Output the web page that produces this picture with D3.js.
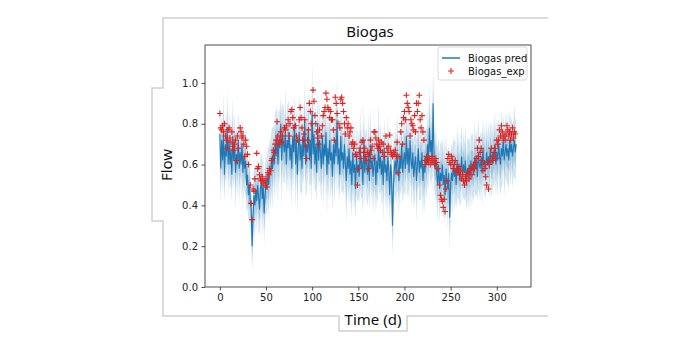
<!DOCTYPE html>
<html>

<head>
  <title>Biogas</title>

  <style>
    body,
    html {
      margin: 0;
      padding: 0;
      background: #fff;
    }

    #svg {
      display: block;
    }
  </style>
</head>


<body>

  <svg id="svg" width="700" height="350"></svg>

  <script src="https://d3js.org/d3.v7.min.js"></script>

  <script>
    // predicted flow, one value per day (day = index)
    const predFlow = [
      0.75, 0.58, 0.72, 0.62, 0.76, 0.55, 0.70, 0.64, 0.78, 0.60,
      0.72, 0.60, 0.68, 0.55, 0.74, 0.62, 0.70, 0.56, 0.65, 0.60, 0.72, 0.58, 0.66, 0.60, 0.70, 0.56, 0.64, 0.58, 0.62, 0.50,
      0.55, 0.45, 0.50, 0.42, 0.38, 0.20, 0.35, 0.45, 0.40, 0.48,
      0.42, 0.50, 0.44, 0.38, 0.48, 0.52, 0.43, 0.50, 0.36, 0.45, 0.52, 0.48, 0.55, 0.50, 0.58,
      0.55, 0.62, 0.58, 0.66, 0.60, 0.70, 0.64, 0.75, 0.60, 0.72, 0.68, 0.80, 0.62, 0.74, 0.70, 0.66, 0.78, 0.60, 0.72, 0.68,
      0.76, 0.62, 0.70, 0.58, 0.74, 0.66, 0.80, 0.60, 0.72, 0.55, 0.68, 0.76, 0.62, 0.70, 0.58, 0.74, 0.64, 0.82, 0.60, 0.70, 0.66, 0.78, 0.62, 0.72, 0.58,
      0.86, 0.65, 0.75, 0.60, 0.70, 0.56, 0.80, 0.62, 0.72, 0.66, 0.58, 0.74, 0.60, 0.70, 0.64, 0.76, 0.55, 0.68, 0.60, 0.72, 0.62, 0.66, 0.54, 0.70, 0.60,
      0.72, 0.64, 0.82, 0.60, 0.68, 0.55, 0.74, 0.62, 0.66, 0.58, 0.70, 0.60, 0.52, 0.64, 0.58, 0.68, 0.55, 0.62, 0.50, 0.66, 0.56, 0.60, 0.48, 0.64, 0.56,
      0.60, 0.54, 0.68, 0.58, 0.62, 0.50, 0.72, 0.56, 0.64, 0.60, 0.55, 0.66, 0.52, 0.70, 0.58, 0.62, 0.54, 0.60, 0.65, 0.50, 0.62, 0.56, 0.70, 0.58, 0.64,
      0.55, 0.62, 0.50, 0.68, 0.56, 0.60, 0.52, 0.64, 0.58, 0.45, 0.60, 0.55, 0.30, 0.50, 0.58, 0.62, 0.55, 0.66, 0.60, 0.52, 0.64, 0.58, 0.70, 0.56, 0.62,
      0.66, 0.58, 0.74, 0.60, 0.68, 0.56, 0.72, 0.62, 0.58, 0.66, 0.54, 0.60, 0.64, 0.52, 0.60, 0.68, 0.56, 0.62, 0.58, 0.66, 0.52, 0.60, 0.56, 0.64, 0.60,
      0.70, 0.62, 0.78, 0.66, 0.72, 0.60, 0.90, 0.64, 0.58, 0.62, 0.55, 0.50, 0.60, 0.48, 0.56, 0.52, 0.60, 0.50, 0.55, 0.45, 0.58, 0.52, 0.48, 0.56, 0.34,
      0.50, 0.56, 0.52, 0.60, 0.54, 0.58, 0.50, 0.62, 0.55, 0.60, 0.52, 0.58, 0.64, 0.54, 0.60, 0.56, 0.62, 0.50, 0.58, 0.55, 0.60, 0.53, 0.62, 0.57, 0.60,
      0.55, 0.64, 0.58, 0.62, 0.54, 0.66, 0.60, 0.58, 0.64, 0.56, 0.68, 0.60, 0.62, 0.58, 0.66, 0.60, 0.64, 0.58, 0.68, 0.62, 0.60, 0.66, 0.62, 0.70, 0.60,
      0.66, 0.62, 0.70, 0.64, 0.60, 0.68, 0.64, 0.72, 0.62, 0.66, 0.70, 0.64, 0.68, 0.62, 0.72, 0.66, 0.70, 0.64, 0.68, 0.72, 0.66, 0.70
    ]

    // half width of the uncertainty band, one value per day
    const predSpread = [
      .14, .18, .12, .16, .20, .13, .17, .12, .19, .15, .16, .12, .18, .14, .20, .13, .15, .19, .12, .17,
      .14, .18, .12, .16, .13, .19, .15, .12, .17, .14, .16, .12, .18, .13, .15, .12, .16, .14, .18, .12,
      .15, .13, .17, .12, .16, .14, .19, .12, .15, .13, .16, .12, .14, .18, .13, .17, .15, .20, .13, .18,
      .16, .22, .14, .20, .15, .18, .13, .24, .16, .19, .15, .20, .14, .18, .22, .15, .19, .13, .21, .16,
      .18, .14, .22, .15, .20, .13, .19, .16, .23, .15, .18, .14, .20, .16, .24, .15, .19, .13, .21, .17,
      .25, .16, .20, .14, .22, .15, .19, .13, .20, .16, .18, .14, .22, .15, .19, .13, .21, .16, .18, .14,
      .20, .15, .18, .13, .21, .16, .19, .22, .15, .18, .14, .20, .16, .19, .13, .18, .15, .21, .14, .17,
      .19, .14, .20, .16, .18, .13, .21, .15, .18, .14, .17, .13, .20, .15, .18, .14, .19, .16, .13, .18,
      .15, .20, .14, .18, .16, .13, .19, .15, .17, .14, .18, .15, .20, .13, .17, .16, .14, .19, .15, .18,
      .14, .17, .20, .15, .13, .18, .16, .15, .22, .14, .17, .15, .19, .14, .18, .16, .13, .20, .15, .17,
      .19, .14, .18, .16, .20, .13, .17, .15, .19, .14, .16, .18, .13, .20, .15, .17, .14, .19, .16, .13,
      .18, .15, .20, .14, .17, .19, .15, .21, .16, .18, .14, .20, .16, .13, .18, .15, .19, .14, .17, .15,
      .18, .13, .16, .20, .14, .17, .15, .19, .13, .16, .18, .14, .16, .13, .17, .15, .12, .18, .14, .16,
      .13, .17, .15, .12, .16, .14, .18, .13, .15, .17, .14, .16, .12, .18, .15, .13, .17, .14, .16, .12,
      .18, .14, .16, .13, .17, .15, .12, .18, .14, .16, .13, .17, .15, .12, .18, .14, .16, .13, .17, .15,
      .14, .18, .13, .16, .15, .19, .14, .12, .17, .15, .16, .13, .18, .14, .15, .17, .12, .16, .14, .18,
      .15, .13
    ]

    // experimental points
    const expDay = [
      0, 1, 2, 3, 4, 5, 6, 7, 8, 9, 10, 11, 12, 13, 14, 15, 16, 17, 18, 19, 20, 22, 23, 24, 25, 26, 27, 28, 29, 30, 31,
      33, 34, 35, 36, 37, 38, 40, 41, 42, 43, 44, 45, 46, 47, 48, 49, 50, 51, 52, 53, 54, 55,
      56, 57, 58, 59, 60, 61, 62, 63, 64, 65, 66, 67, 68, 70, 71, 72, 74, 75, 76, 77, 78, 79, 80, 82, 83, 84,
      86, 87, 88, 89, 90, 91, 92, 93, 94, 95, 96, 97, 98, 99,
      101, 102, 103, 104, 105, 106, 107, 108, 110, 111, 112, 113, 114, 115, 116, 117, 118, 119, 120, 121, 122, 123, 124, 125, 126, 127,
      129, 130, 131, 132, 133, 134, 135, 136, 137, 138, 139, 140, 141, 142, 143, 144, 145, 146, 147, 148, 149, 150,
      151, 152, 153, 154, 155, 156, 157, 158, 159, 160, 161, 162, 163, 164, 165, 166, 167, 168, 169, 170, 171, 172, 173, 174, 175, 176, 177, 178,
      180, 181, 182, 183, 184, 185, 186, 187, 188, 189, 190, 191, 192, 193, 194, 196, 197, 198, 199, 200,
      201, 202, 203, 204, 205, 206, 207, 208, 209, 210, 211, 212, 213, 214, 215, 216, 217, 218, 219, 220,
      221, 222, 223, 224, 225, 226, 227, 228, 229, 230, 231, 232, 233, 234, 235, 236, 238, 239, 240,
      241, 242, 243, 244, 245, 246, 247, 248, 249, 250, 251, 252, 253, 254, 255, 256, 257, 258, 259, 260,
      261, 262, 263, 264, 265, 266, 267, 268, 269, 270, 271, 272, 273, 274, 275, 276, 277, 278, 279, 280,
      281, 282, 283, 284, 285, 286, 287, 288, 289, 290, 291, 292, 293, 294, 295, 296, 297, 298, 299, 300,
      301, 302, 303, 304, 305, 306, 307, 308, 309, 310, 311, 312, 313, 314, 315, 316, 317, 318, 319, 320
    ]
    const expFlow = [
      .85, .78, .77, .79, .76, .80, .74, .72, .68, .77, .78, .73, .71, .76, .69, .67, .70, .72, .62, .74, .68, .78, .76, .73, .74, .70, .64, .72, .69, .65, .60,
      .50, .41, .33, .48, .47, .53, .655, .58, .59, .55, .53, .52, .54, .51, .52, .50, .53, .49, .56, .55, .58, .57,
      .62, .63, .67, .66, .70, .72, .81, .74, .70, .72, .76, .71, .74, .78, .77, .79, .82, .74, .80, .86, .87, .83, .78, .79, .74, .72,
      .82, .88, .83, .78, .72, .75, .82, .69, .63, .72, .77, .90, .86, .80,
      .965, .91, .84, .80, .76, .73, .70, .77, .74, .79, .84, .86, .88, .95, .92, .88, .87, .83, .86, .82, .82, .77, .72, .93, .90, .85,
      .80, .78, .92, .93, .90, .86, .80, .75, .83, .78, .80, .74, .76, .78, .70, .71, .68, .70, .65, .64, .50, .58,
      .66, .68, .63, .71, .72, .66, .68, .64, .62, .66, .58, .65, .72, .67, .69, .63, .76, .76, .73, .70, .68, .72, .69, .67, .71, .66, .70, .64,
      .74, .68, .66, .69, .745, .67, .65, .64, .66, .65, .67, .64, .71, .56, .64, .76, .80, .70, .83, .86,
      .82, .94, .90, .88, .86, .74, .82, .80, .79, .77, .84, .76, .90, .86, .90, .94, .82, .78, .84, .76,
      .72, .62, .60, .64, .62, .61, .63, .60, .62, .64, .61, .62, .60, .63, .61, .58, .50, .45, .43,
      .42, .39, .43, .37, .48, .52, .63, .65, .61, .60, .64, .62, .58, .60, .62, .57, .58, .56, .59, .55,
      .57, .53, .55, .52, .50, .54, .52, .56, .55, .53, .58, .57, .55, .59, .60, .58, .61, .63, .68, .64,
      .72, .66, .68, .62, .57, .60, .58, .54, .50, .61, .48, .60, .62, .68, .64, .62, .66, .68, .63, .72,
      .70, .72, .77, .74, .79, .76, .73, .74, .72, .75, .79, .77, .74, .76, .72, .75, .78, .73, .76, .75
    ]

    const xTicks = [0, 50, 100, 150, 200, 250, 300]
    const yTicks = [0.0, 0.2, 0.4, 0.6, 0.8, 1.0]

    const plotLeft = 205, plotRight = 531, plotTop = 45, plotBottom = 287
    const frameColor = '#cfcfcf'
    const blue = '#1f77b4'
    const red = '#e3201c'

    const svg = d3.select('#svg')

    // grey frame around the figure
    svg.append('path')
      .attr('d', 'M548,18H163V88H152V221H163V316H339V331H407V316H548')
      .attr('fill', 'none')
      .attr('stroke', frameColor)
      .attr('stroke-width', 1.5)

    const xScale = d3.scaleLinear()
      .domain([-16.05, 337.05])
      .range([plotLeft, plotRight])

    const yScale = d3.scaleLinear()
      .domain([0, 1.186])
      .range([plotBottom, plotTop])

    const rows = predFlow.map((v, i) => ({ day: i, v, s: predSpread[i] }))
    const points = expDay.map((d, i) => ({ day: d, v: expFlow[i] })).filter(p => p.v !== undefined)

    const graph = svg.append('g')

    const outerBand = d3.area()
      .x(d => xScale(d.day))
      .y0(d => yScale(d.v - d.s))
      .y1(d => yScale(d.v + d.s))

    const innerBand = d3.area()
      .x(d => xScale(d.day))
      .y0(d => yScale(d.v - d.s / 2))
      .y1(d => yScale(d.v + d.s / 2))

    graph.append('path')
      .attr('d', outerBand(rows))
      .attr('fill', blue)
      .attr('opacity', 0.2)

    graph.append('path')
      .attr('d', innerBand(rows))
      .attr('fill', blue)
      .attr('opacity', 0.28)

    const lineGen = d3.line()
      .x(d => xScale(d.day))
      .y(d => yScale(d.v))

    graph.append('path')
      .attr('d', lineGen(rows))
      .attr('fill', 'none')
      .attr('stroke', blue)
      .attr('stroke-width', 1.1)

    graph.selectAll('.exp')
      .data(points)
      .join('path')
      .attr('class', 'exp')
      .attr('transform', d => `translate(${xScale(d.day)},${yScale(d.v)})`)
      .attr('d', 'M-3,0H3M0,-3V3')
      .attr('stroke', red)
      .attr('stroke-width', 1.1)

    // axes
    const bottomAxis = d3.axisBottom(xScale)
      .tickValues(xTicks)
      .tickFormat(d3.format('d'))
      .tickSize(3.5)
      .tickPadding(3.5)
      .tickSizeOuter(0)

    const leftAxis = d3.axisLeft(yScale)
      .tickValues(yTicks)
      .tickFormat(d3.format('.1f'))
      .tickSize(3.5)
      .tickPadding(3.5)
      .tickSizeOuter(0)

    const gx = svg.append('g')
      .attr('transform', `translate(0, ${plotBottom})`)
      .call(bottomAxis)

    const gy = svg.append('g')
      .attr('transform', `translate(${plotLeft}, 0)`)
      .call(leftAxis)

    for (const g of [gx, gy]) {
      g.select('.domain').remove()
      g.selectAll('text')
        .attr('font-family', 'DejaVu Sans')
        .attr('font-size', 10)
        .attr('fill', '#222')
      g.selectAll('line').attr('stroke', '#222').attr('stroke-width', 0.8)
    }

    svg.append('rect')
      .attr('x', plotLeft)
      .attr('y', plotTop)
      .attr('width', plotRight - plotLeft)
      .attr('height', plotBottom - plotTop)
      .attr('fill', 'none')
      .attr('stroke', '#222')
      .attr('stroke-width', 0.8)

    // titles
    svg.append('text')
      .attr('x', 370)
      .attr('y', 37)
      .attr('text-anchor', 'middle')
      .attr('font-family', 'Noto Sans')
      .attr('font-size', 15)
      .attr('fill', '#111')
      .text('Biogas')

    svg.append('text')
      .attr('transform', 'translate(172, 165) rotate(-90)')
      .attr('text-anchor', 'middle')
      .attr('font-family', 'Noto Sans')
      .attr('font-size', 15)
      .attr('fill', '#111')
      .text('Flow')

    svg.append('text')
      .attr('x', 373)
      .attr('y', 325)
      .attr('text-anchor', 'middle')
      .attr('font-family', 'Noto Sans')
      .attr('font-size', 15)
      .attr('fill', '#111')
      .text('Time (d)')

    // legend
    const legend = svg.append('g')
      .attr('transform', 'translate(438, 47)')

    legend.append('rect')
      .attr('width', 89)
      .attr('height', 33)
      .attr('rx', 2)
      .attr('fill', '#fff')
      .attr('fill-opacity', 0.8)
      .attr('stroke', '#d0d0d0')
      .attr('stroke-width', 0.8)

    legend.append('line')
      .attr('x1', 4).attr('x2', 22)
      .attr('y1', 11).attr('y2', 11)
      .attr('stroke', blue)
      .attr('stroke-width', 1.5)

    legend.append('path')
      .attr('transform', 'translate(13, 24)')
      .attr('d', 'M-3,0H3M0,-3V3')
      .attr('stroke', red)
      .attr('stroke-width', 1.1)

    legend.selectAll('.lab')
      .data(['Biogas pred', 'Biogas_exp'])
      .join('text')
      .attr('class', 'lab')
      .attr('x', 30)
      .attr('y', (d, i) => 14.5 + i * 13)
      .attr('font-family', 'DejaVu Sans')
      .attr('font-size', 10)
      .attr('fill', '#111')
      .text(d => d)
  </script>

</body>

</html>
